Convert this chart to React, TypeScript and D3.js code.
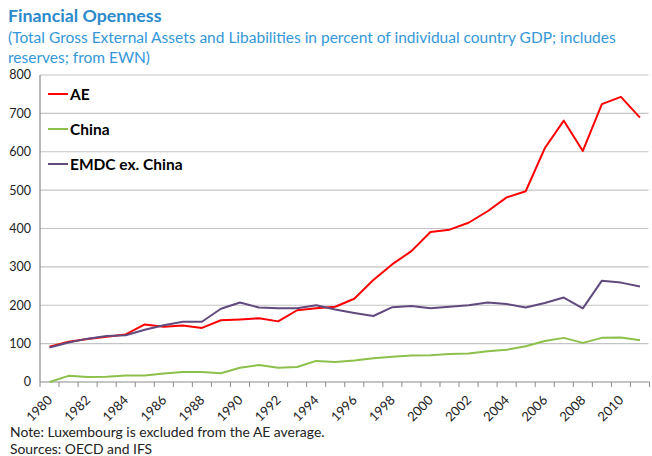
import React from 'react';
import * as d3 from 'd3';

const years = d3.range(1980, 2012).map(String);

const ae = [92, 105, 112, 118, 124, 150, 144, 147, 141, 161, 163, 166, 158, 187, 192, 196, 217, 266, 307, 341, 391, 397, 415, 445, 481, 497, 609, 681, 602, 724, 743, 689];
const china = [0, 16, 13, 14, 17, 17, 22, 26, 26, 23, 37, 44, 37, 39, 55, 52, 56, 62, 66, 69, 70, 73, 74, 80, 84, 93, 107, 115, 102, 115, 116, 109];
const emdc = [90, 103, 113, 120, 122, 136, 148, 157, 157, 191, 207, 194, 192, 192, 200, 189, 180, 172, 195, 198, 192, 196, 200, 207, 203, 194, 206, 220, 192, 264, 259, 249];

const yTicks = [0, 100, 200, 300, 400, 500, 600, 700, 800];

const series = [
  { name: 'AE', values: ae, color: '#ff0000' },
  { name: 'China', values: china, color: '#8cc04b' },
  { name: 'EMDC ex. China', values: emdc, color: '#614a7d' },
];

const W = 652;
const H = 456;
const left = 40;
const right = 649.5;
const top = 75;
const bottom = 382;
const font = 'Lato, "Liberation Sans", sans-serif';

export default function App() {
  const x = d3.scaleBand().domain(years).range([left, right]);
  const y = d3.scaleLinear().domain([0, 800]).range([bottom, top]);

  const line = d3.line<number>()
    .x((d, i) => x(years[i])! + x.bandwidth() / 2)
    .y(d => y(d));

  return (
    <svg width={W} height={H} style={{ position: 'absolute', left: 0, top: 0, background: '#fff' }} fontFamily={font}>
      {/* titulos */}
      <text x={8} y={22} fontSize={17.8} fontWeight="bold" fill="#2a8acb">Financial Openness</text>
      <text x={8} y={43} fontSize={15.5} fill="#3497d9">
        (Total Gross External Assets and Libabilities in percent of individual country GDP; includes
      </text>
      <text x={8} y={63} fontSize={15.5} fill="#3497d9">reserves; from EWN)</text>

      {/* rejilla */}
      {yTicks.map(t => (
        <g key={t}>
          {t > 0 && <line x1={left} x2={right - 1} y1={y(t)} y2={y(t)} stroke="#c4c4c4" strokeWidth={1.2} />}
          <text x={31} y={y(t)} dy="0.35em" textAnchor="end" fontSize={12.5} fill="#222">{t}</text>
        </g>
      ))}

      {/* ejes */}
      <line x1={left} x2={left} y1={top} y2={bottom} stroke="#8c8c8c" strokeWidth={1.2} />
      <line x1={left} x2={right} y1={bottom} y2={bottom} stroke="#8c8c8c" strokeWidth={1.2} />
      {years.map(yr => (
        <line key={yr} x1={x(yr)!} x2={x(yr)!} y1={bottom} y2={bottom + 5} stroke="#8c8c8c" />
      ))}
      <line x1={right} x2={right} y1={bottom} y2={bottom + 5} stroke="#8c8c8c" />
      {years.filter((_, i) => i % 2 === 0).map(yr => {
        const cx = x(yr)! + x.bandwidth() / 2;
        return (
          <text key={yr} transform={`translate(${cx + 3.5},${401}) rotate(-45)`} textAnchor="end" fontSize={13} fill="#222">{yr}</text>
        );
      })}

      {/* lineas */}
      {series.map(s => (
        <path key={s.name} d={line(s.values)!} fill="none" stroke={s.color} strokeWidth={2} strokeLinejoin="round" />
      ))}

      {/* leyenda */}
      {series.map((s, i) => (
        <g key={s.name} transform={`translate(48,${94 + i * 35})`}>
          <line x1={0} x2={20} y1={0} y2={0} stroke={s.color} strokeWidth={2} />
          <text x={22} y={0} dy="0.36em" fontSize={15.5} fontWeight="bold" fill="#000">{s.name}</text>
        </g>
      ))}

      {/* notas */}
      <text x={10} y={437} fontSize={13.9} fill="#222">Note: Luxembourg is excluded from the AE average.</text>
      <text x={10} y={454} fontSize={13.9} fill="#222">Sources: OECD and IFS</text>
    </svg>
  );
}
